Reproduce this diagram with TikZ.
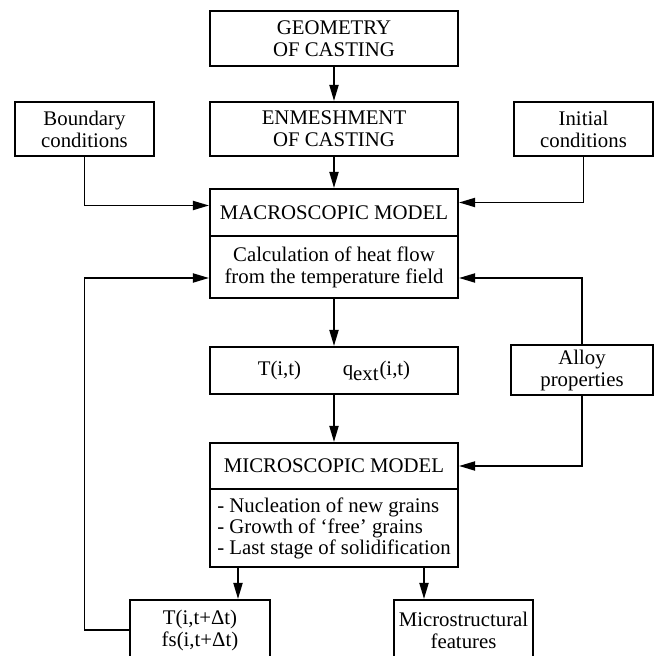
\documentclass[tikz,border=0pt]{standalone}
\usepackage{fontspec}
\setmainfont{Liberation Serif}
\usetikzlibrary{arrows.meta, positioning}

\begin{document}
\begin{tikzpicture}[
    node distance=17pt and 27pt,
    block/.style={rectangle, draw, line width=1pt, align=center, minimum width=124pt, minimum height=27pt, inner sep=2pt, font=\fontsize{10.4}{11}\selectfont},
    side/.style={block, minimum width=69.5pt},
    arrow/.style={line width=0.9pt, -{Triangle[length=8pt, width=4.5pt]}}
]
    \useasboundingbox (-167pt,19.25pt) rectangle (162pt,-308.75pt);

    \node[block, minimum height=27.5pt] (geometry) at (0,0) {GEOMETRY\\OF CASTING};
    \node[block, below=of geometry] (mesh) {ENMESHMENT\\OF CASTING};
    \node[side, left=of mesh] (boundary) {Boundary\\conditions};
    \node[side, right=of mesh] (initial) {Initial\\conditions};

    \node[block, below=15.5pt of mesh, minimum height=23.5pt] (macro) {MACROSCOPIC MODEL};
    \node[block, below=-1pt of macro, minimum height=31pt] (heat) {Calculation of heat flow\\from the temperature field};
    \node[block, below=23.5pt of heat, minimum height=23.5pt] (field) {T(i,t)\qquad q$_{\mbox{ext}}$(i,t)};
    \node[side, right=25.5pt of field, minimum width=71pt, minimum height=25pt] (alloy) {Alloy\\properties};

    \node[block, below=23.5pt of field, minimum height=23pt] (micro) {MICROSCOPIC MODEL};
    \node[block, below=-1pt of micro, minimum height=39pt, align=left, font=\fontsize{10.4}{10.5}\selectfont] (growth) {- Nucleation of new grains\\- Growth of `free' grains\\- Last stage of solidification};

    \node[side, below=15.5pt of growth, xshift=-67pt, minimum width=70pt, minimum height=30pt] (newfield) {T(i,t+Δt)\\fs(i,t+Δt)};
    \node[side, below=15.5pt of growth, xshift=64.75pt, minimum height=30pt] (features) {Microstructural\\features};

    \draw[arrow] (geometry) -- (mesh);
    \draw[arrow] (mesh) -- (macro);
    \draw[arrow] (boundary.south) |- ([yshift=3.5pt]macro.west);
    \draw[arrow] (initial.south) |- ([yshift=5pt]macro.east);
    \draw[arrow] (heat) -- (field);
    \draw[arrow] (field) -- (micro);
    \draw[arrow] (alloy.north) |- ([yshift=-5.5pt]heat.east);
    \draw[arrow] (alloy.south) |- (micro.east);
    \draw[arrow] ([xshift=14.5pt]growth.south west) -- ([xshift=14.5pt]growth.south west |- newfield.north);
    \draw[arrow] ([xshift=-17.5pt]growth.south east) -- ([xshift=-17.5pt]growth.south east |- features.north);
    \draw[arrow] (newfield.west) -- (newfield.west -| boundary.south) |- ([yshift=-5.5pt]heat.west);
\end{tikzpicture}
\end{document}
